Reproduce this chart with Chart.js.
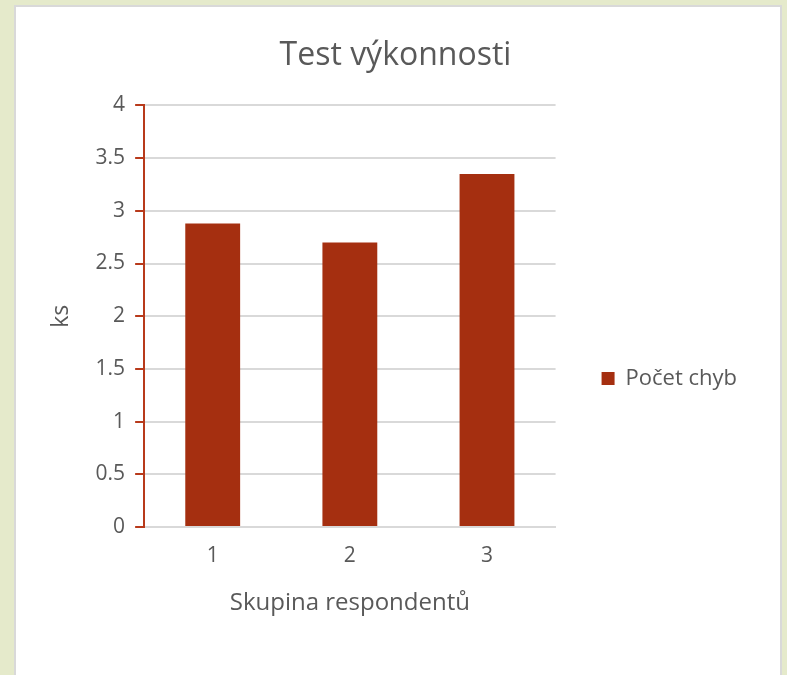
<!DOCTYPE html>
<html>
<head>
<meta charset="utf-8">
<script src="https://cdn.jsdelivr.net/npm/chart.js@4"></script>
<style>
  html, body { margin: 0; padding: 0; width: 787px; height: 675px; overflow: hidden; background: #e5eacb; }
  #panel { position: absolute; left: 14px; top: 5px; width: 764px; height: 680px; background: #fff; border: 2px solid #d9d9d9; }
  canvas { position: absolute; left: 0; top: 0; }
</style>
</head>
<body>
<div id="panel"><canvas id="c" width="764" height="668"></canvas></div>
<script>
// Skupiny respondentů a průměrný počet chyb
const groups = ["1", "2", "3"];
const errors = [2.88, 2.70, 3.35];
const seriesName = "Počet chyb";

const fontFam = "'Open Sans', 'DejaVu Sans', sans-serif";
const textCol = "#595959";
const barCol = "#a52f10";
const axisRed = "#b83a1b";

// mezera mezi grafem a legendou, legenda posunutá níž
const legendGap = 38;
const legendShift = {
  id: "legendShift",
  afterInit(chart) {
    const lg = chart.legend;
    const fit = lg.fit;
    lg.fit = function () {
      fit.call(this);
      this.width += legendGap;
    };
  },
  afterLayout(chart) {
    chart.legend.left += legendGap;
    chart.legend.top += 118;
  }
};

new Chart(document.getElementById("c"), {
  type: "bar",
  data: {
    labels: groups,
    datasets: [{
      label: seriesName,
      data: errors,
      backgroundColor: barCol,
      barPercentage: 0.4,
      categoryPercentage: 1.0
    }]
  },
  options: {
    responsive: false,
    animation: false,
    layout: { padding: { left: 28, right: 33, top: 10, bottom: 53 } },
    plugins: {
      title: {
        display: true,
        text: "Test výkonnosti",
        color: textCol,
        font: { family: fontFam, size: 32, weight: "normal" },
        padding: { top: 20, bottom: 30 }
      },
      legend: {
        position: "right",
        labels: {
          color: textCol,
          boxWidth: 13,
          boxHeight: 13,
          padding: 8,
          font: { family: fontFam, size: 22 }
        }
      },
      tooltip: { enabled: false }
    },
    scales: {
      x: {
        grid: { display: false },
        border: { color: "#d9d9d9", width: 2 },
        ticks: { color: textCol, font: { family: fontFam, size: 21 }, padding: 8 },
        title: {
          display: true,
          text: "Skupina respondentů",
          color: textCol,
          font: { family: fontFam, size: 24 },
          padding: { top: 13 }
        }
      },
      y: {
        min: 0,
        max: 4,
        ticks: {
          stepSize: 0.5,
          color: textCol,
          font: { family: fontFam, size: 21 },
          padding: 10,
          callback: v => String(v)
        },
        grid: { color: "#d9d9d9", lineWidth: 2, tickColor: axisRed, tickLength: 9 },
        border: { color: axisRed, width: 2 },
        title: {
          display: true,
          text: "ks",
          color: textCol,
          font: { family: fontFam, size: 23 },
          padding: { bottom: 10 }
        }
      }
    }
  },
  plugins: [legendShift]
});
</script>
</body>
</html>
